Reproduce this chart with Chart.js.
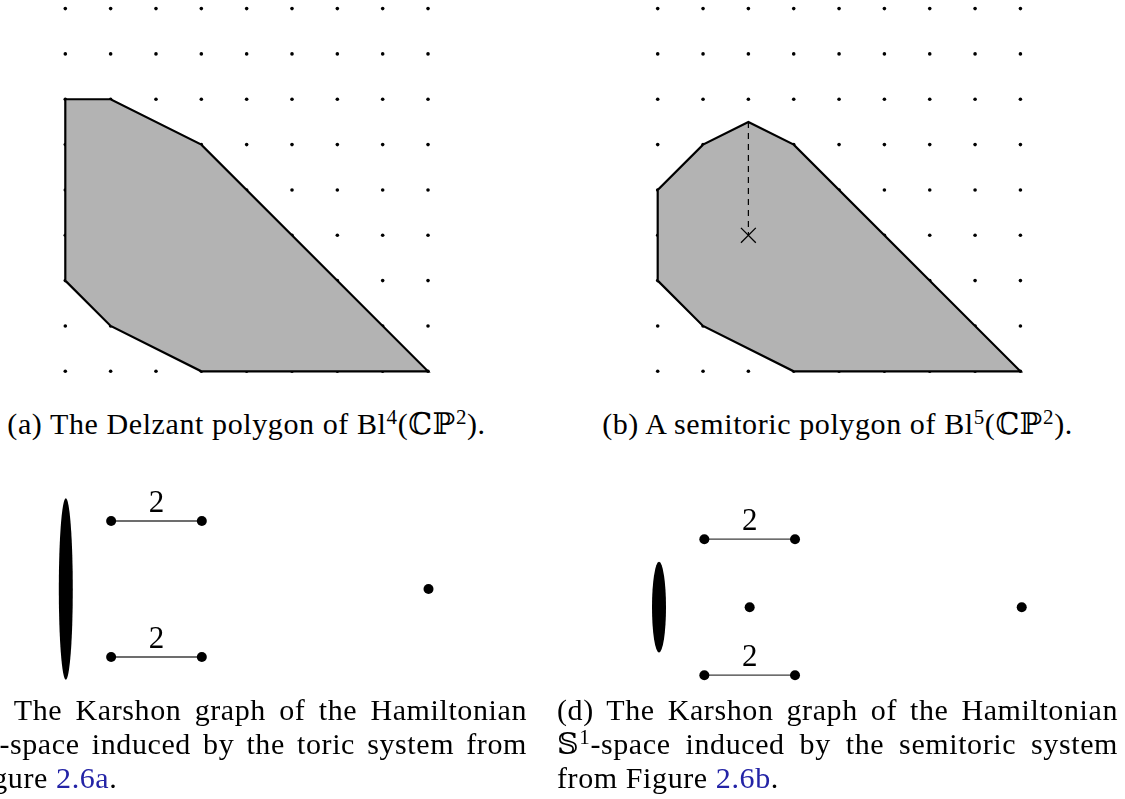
<!DOCTYPE html>
<html>
<head>
<meta charset="utf-8">
<script src="https://cdn.jsdelivr.net/npm/chart.js@4"></script>
<style>
  html, body { margin: 0; padding: 0; background: #fff; }
  #page { position: relative; width: 1125px; height: 799px; overflow: hidden; }
  canvas { position: absolute; }
  .cap {
    position: absolute;
    font-family: 'Liberation Serif', 'DejaVu Serif', serif;
    font-size: 30px;
    line-height: 34px;
    letter-spacing: 0.6px;
    color: #000;
    white-space: nowrap;
  }
  .cap sup { font-size: 0.7em; line-height: 0; vertical-align: 0.5em; }
  .center { text-align: center; }
  .par div { text-align: justify; text-align-last: justify; }
  .par div.last { text-align-last: left; }
  .ref { color: #2323a6; }
</style>
</head>
<body>
<div id="page">
  <canvas id="figA" width="490" height="400" style="left:0px;top:0px"></canvas>
  <canvas id="figB" width="525" height="400" style="left:600px;top:0px"></canvas>
  <canvas id="figC" width="490" height="225" style="left:0px;top:470px"></canvas>
  <canvas id="figD" width="525" height="225" style="left:600px;top:470px"></canvas>

  <div class="cap center" style="left:0px;top:407px;width:493px">(a) The Delzant polygon of Bl<sup>4</sup>(ℂℙ<sup>2</sup>).</div>
  <div class="cap center" style="left:580px;top:407px;width:515px">(b) A semitoric polygon of Bl<sup>5</sup>(ℂℙ<sup>2</sup>).</div>

  <div class="cap par" style="left:-34px;top:693px;width:561px">
    <div>(c) The Karshon graph of the Hamiltonian</div>
    <div>𝕊<sup>1</sup>-space induced by the toric system from</div>
    <div class="last">Figure <span class="ref">2.6a</span>.</div>
  </div>
  <div class="cap par" style="left:557px;top:693px;width:561px">
    <div>(d) The Karshon graph of the Hamiltonian</div>
    <div>𝕊<sup>1</sup>-space induced by the semitoric system</div>
    <div class="last">from Figure <span class="ref">2.6b</span>.</div>
  </div>
</div>

<script>
// lattice
const GRID_COLS = [0, 1, 2, 3, 4, 5, 6, 7, 8];
const GRID_ROWS = [0, 1, 2, 3, 4, 5, 6, 7, 8];

// (a) Delzant polygon, vertices in order (closed)
const DELZANT_X = [0, 0, 1, 3, 8, 3, 1, 0];
const DELZANT_Y = [2, 6, 6, 5, 0, 0, 1, 2];

// (b) semitoric polygon + cut and focus-focus point
const SEMI_X = [0, 0, 1, 2, 3, 8, 3, 1, 0];
const SEMI_Y = [2, 4, 5, 5.5, 5, 0, 0, 1, 2];
const CUT_X = [2, 2];
const CUT_Y = [5.5, 3];
const FOCUS_X = [2];
const FOCUS_Y = [3];

// (c) Karshon graph, toric
const KC_FAT_X = 0;
const KC_FAT_Y = [-2, 2];
const KC_EDGE_FROM = [1, 1];
const KC_EDGE_TO = [3, 3];
const KC_EDGE_Y = [1.5, -1.5];
const KC_EDGE_LABEL = ['2', '2'];
const KC_ISO_X = [8];
const KC_ISO_Y = [0];

// (d) Karshon graph, semitoric
const KD_FAT_X = 0;
const KD_FAT_Y = [-1, 1];
const KD_EDGE_FROM = [1, 1];
const KD_EDGE_TO = [3, 3];
const KD_EDGE_Y = [1.5, -1.5];
const KD_EDGE_LABEL = ['2', '2'];
const KD_ISO_X = [2, 8];
const KD_ISO_Y = [0, 0];

const UNIT = 45.34; // px per lattice step

const pts = (xs, ys) => xs.map((x, i) => ({ x, y: ys[i] }));

// axis limits so that data origin lands on (ox, oy) of the page
function limits(canvas, ox, oy) {
  const left = parseFloat(canvas.style.left), top = parseFloat(canvas.style.top);
  return {
    x: { min: (left - ox) / UNIT, max: (left + canvas.width - ox) / UNIT },
    y: { min: (oy - top - canvas.height) / UNIT, max: (oy - top) / UNIT },
  };
}

// fat vertex (ellipse) and edge labels of a Karshon graph
const karshonDecor = {
  id: 'karshonDecor',
  beforeDatasetsDraw(chart, args, opts) {
    if (!opts.fatY) return;
    const { ctx, scales: { x, y } } = chart;
    const cx = x.getPixelForValue(opts.fatX);
    const y1 = y.getPixelForValue(opts.fatY[0]);
    const y2 = y.getPixelForValue(opts.fatY[1]);
    ctx.save();
    ctx.fillStyle = '#000';
    ctx.beginPath();
    ctx.ellipse(cx, (y1 + y2) / 2, 7, Math.abs(y1 - y2) / 2, 0, 0, Math.PI * 2);
    ctx.fill();
    ctx.restore();
  },
  afterDatasetsDraw(chart, args, opts) {
    if (!opts.labels) return;
    const { ctx, scales: { x, y } } = chart;
    ctx.save();
    ctx.fillStyle = '#000';
    ctx.font = "31px 'Liberation Serif', serif";
    ctx.textAlign = 'center';
    ctx.textBaseline = 'alphabetic';
    opts.labels.forEach((txt, i) => {
      const mx = x.getPixelForValue((opts.from[i] + opts.to[i]) / 2);
      ctx.fillText(txt, mx, y.getPixelForValue(opts.ys[i]) - 9);
    });
    ctx.restore();
  },
};

function baseOptions(lim, decor) {
  return {
    responsive: false,
    animation: false,
    devicePixelRatio: 1,
    events: [],
    layout: { padding: 0, autoPadding: false },
    plugins: { legend: { display: false }, tooltip: { enabled: false }, karshonDecor: decor || {} },
    scales: {
      x: { type: 'linear', display: false, min: lim.x.min, max: lim.x.max },
      y: { type: 'linear', display: false, min: lim.y.min, max: lim.y.max },
    },
  };
}

const gridPts = GRID_COLS.flatMap(x => GRID_ROWS.map(y => ({ x, y })));
const gridSet = {
  data: gridPts, pointRadius: 1.8, pointBackgroundColor: '#000', pointBorderWidth: 0,
};
const polySet = (xs, ys) => ({
  data: pts(xs, ys), showLine: true, fill: 'shape', tension: 0,
  backgroundColor: '#b3b3b3', borderColor: '#000', borderWidth: 2.2,
  borderJoinStyle: 'miter', pointRadius: 0,
});

function polygonChart(id, ox, oy, xs, ys, extra) {
  const el = document.getElementById(id);
  return new Chart(el, {
    type: 'scatter',
    data: { datasets: [...extra, polySet(xs, ys), gridSet] },
    options: baseOptions(limits(el, ox, oy)),
  });
}

function karshonChart(id, ox, oy, g) {
  const el = document.getElementById(id);
  const edges = g.from.map((f, i) => ({
    data: pts([f, g.to[i]], [g.ys[i], g.ys[i]]), showLine: true,
    borderColor: '#3c3c3c', borderWidth: 1.3,
    pointRadius: 5, pointBackgroundColor: '#000', pointBorderWidth: 0,
  }));
  const iso = {
    data: pts(g.isoX, g.isoY), pointRadius: 5, pointBackgroundColor: '#000', pointBorderWidth: 0,
  };
  return new Chart(el, {
    type: 'scatter',
    data: { datasets: [...edges, iso] },
    options: baseOptions(limits(el, ox, oy), g),
    plugins: [karshonDecor],
  });
}

polygonChart('figA', 65.3, 371.3, DELZANT_X, DELZANT_Y, []);
polygonChart('figB', 657.7, 371.3, SEMI_X, SEMI_Y, [
  { data: pts(FOCUS_X, FOCUS_Y), pointStyle: 'crossRot', pointRadius: 10.5,
    borderColor: '#000', pointBorderWidth: 1.3 },
  { data: pts(CUT_X, CUT_Y), showLine: true, borderDash: [6, 5], borderColor: '#000',
    borderWidth: 1.2, pointRadius: 0 },
]);

karshonChart('figC', 65.8, 589, {
  fatX: KC_FAT_X, fatY: KC_FAT_Y, from: KC_EDGE_FROM, to: KC_EDGE_TO, ys: KC_EDGE_Y,
  labels: KC_EDGE_LABEL, isoX: KC_ISO_X, isoY: KC_ISO_Y,
});
karshonChart('figD', 659, 607.2, {
  fatX: KD_FAT_X, fatY: KD_FAT_Y, from: KD_EDGE_FROM, to: KD_EDGE_TO, ys: KD_EDGE_Y,
  labels: KD_EDGE_LABEL, isoX: KD_ISO_X, isoY: KD_ISO_Y,
});
</script>
</body>
</html>
